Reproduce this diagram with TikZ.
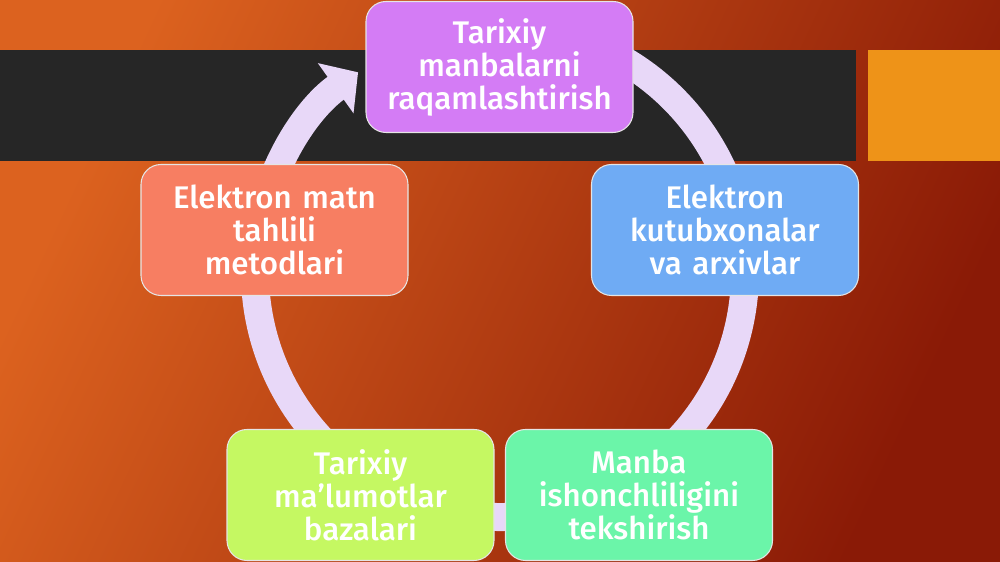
\documentclass[tikz,border=0pt]{standalone}
\usepackage{fontspec}
\setmainfont{Fira Sans}[UprightFont=* Medium]
\usetikzlibrary{arrows.meta}

\definecolor{bgleft}{HTML}{DC621F}
\definecolor{bgright}{HTML}{8A1A06}
\definecolor{bandc}{HTML}{262626}
\definecolor{squarec}{HTML}{EE9318}
\definecolor{ringc}{HTML}{E8D8F8}
\definecolor{purplec}{HTML}{D47CF5}
\definecolor{bluec}{HTML}{6FABF4}
\definecolor{salmonc}{HTML}{F77E62}
\definecolor{limec}{HTML}{C5F862}
\definecolor{mintc}{HTML}{6BF5A9}

\begin{document}
\begin{tikzpicture}[>={Triangle[width=1.2cm,length=0.55cm]},
	stage/.style={draw=white!80!gray, line width=0.6pt, rounded corners=0.4cm,
		minimum width=5.34cm, minimum height=2.62cm, text width=5.1cm, align=center,
		text=white, font=\fontsize{17.8}{18.8}\selectfont},
	ring/.style={line width=0.56cm, draw=ringc}]
  			\useasboundingbox (0,0) rectangle (20,11.24);
  			\shade[left color=bgleft, right color=bgright, shading angle=65] (0,0) rectangle (20,11.24);
  			\fill[bandc] (0,8.02) rectangle (17.12,10.24);
  			\fill[squarec] (17.36,8.02) rectangle (20,10.24);

  			% ring behind the boxes
  			\coordinate (c) at (10,5.8);
  			\draw[ring, ->] (c) ++(80:4.9) arc[start angle=80, end angle=-234.6, radius=4.9];

  			\node[stage, fill=purplec] (digit) at (9.99,9.9)  {Tarixiy\\ manbalarni\\ raqamlashtirish};
  			\node[stage, fill=bluec]   (lib)   at (14.5,6.64) {Elektron\\ kutubxonalar\\ va arxivlar};
  			\node[stage, fill=mintc]   (check) at (12.78,1.34) {Manba\\ ishonchliligini\\ tekshirish};
  			\node[stage, fill=limec]   (data)  at (7.21,1.34) {Tarixiy\\ ma’lumotlar\\ bazalari};
  			\node[stage, fill=salmonc] (text)  at (5.49,6.64) {Elektron matn\\ tahlili\\ metodlari};
\end{tikzpicture}
\end{document}
